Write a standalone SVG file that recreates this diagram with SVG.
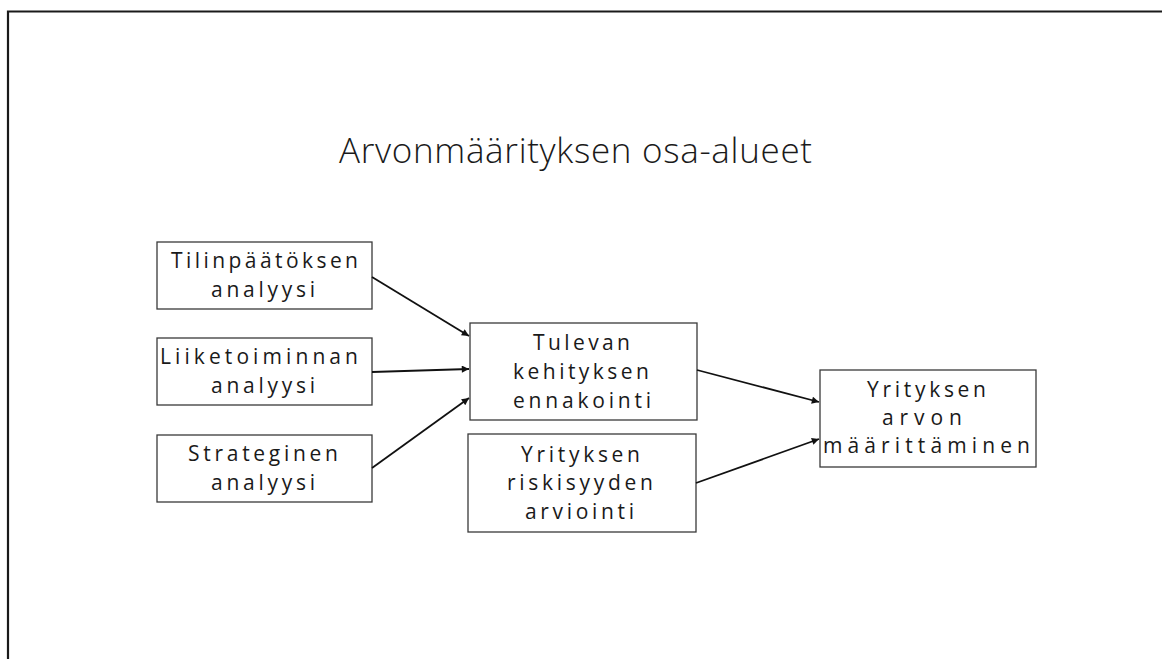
<svg xmlns="http://www.w3.org/2000/svg" width="1162" height="659" viewBox="0 0 1162 659">
<style>
.box{fill:#fff;stroke:#3a3a3a;stroke-width:1.3}
.t{font-family:"Open Sans","Liberation Sans",sans-serif;font-size:21px;fill:#1a1a1a;text-anchor:middle}
.title{font-family:"Open Sans","Liberation Sans",sans-serif;font-size:35px;font-weight:300;fill:#1a1a1a;text-anchor:middle}
.c{stroke:#111;stroke-width:1.8;fill:none;marker-end:url(#ah)}
</style>
<defs>
<marker id="ah" viewBox="0 0 10 10" refX="10" refY="5" markerWidth="5" markerHeight="4" orient="auto" markerUnits="strokeWidth">
<path d="M0,0 L10,5 L0,10 z" fill="#111"/>
</marker>
</defs>
<rect x="0" y="0" width="1162" height="659" fill="#fff"/>
<path d="M8,659 V11.5 H1162" fill="none" stroke="#1a1a1a" stroke-width="2.2"/>
<text class="title" x="575.5" y="163" textLength="473" lengthAdjust="spacing">Arvonmäärityksen osa-alueet</text>
<g id="n1">
<rect class="box" x="157" y="242" width="215" height="67"/>
<text class="t" x="264.5" y="268" textLength="187" lengthAdjust="spacing">Tilinpäätöksen</text>
<text class="t" x="263" y="297" textLength="104" lengthAdjust="spacing">analyysi</text>
</g>
<g id="n2">
<rect class="box" x="157" y="338" width="215" height="67"/>
<text class="t" x="259" y="364" textLength="198" lengthAdjust="spacing">Liiketoiminnan</text>
<text class="t" x="263" y="393" textLength="104" lengthAdjust="spacing">analyysi</text>
</g>
<g id="n3">
<rect class="box" x="157" y="435" width="215" height="67"/>
<text class="t" x="263" y="461" textLength="150" lengthAdjust="spacing">Strateginen</text>
<text class="t" x="263" y="490" textLength="104" lengthAdjust="spacing">analyysi</text>
</g>
<g id="n4">
<rect class="box" x="470" y="323" width="227" height="97"/>
<text class="t" x="581.5" y="350" textLength="97" lengthAdjust="spacing">Tulevan</text>
<text class="t" x="581" y="379" textLength="136" lengthAdjust="spacing">kehityksen</text>
<text class="t" x="582" y="408" textLength="138" lengthAdjust="spacing">ennakointi</text>
</g>
<g id="n5">
<rect class="box" x="468" y="434" width="228" height="98"/>
<text class="t" x="580.5" y="462" textLength="119" lengthAdjust="spacing">Yrityksen</text>
<text class="t" x="580" y="490" textLength="146" lengthAdjust="spacing">riskisyyden</text>
<text class="t" x="579.5" y="519" textLength="109" lengthAdjust="spacing">arviointi</text>
</g>
<g id="n6">
<rect class="box" x="820" y="370" width="216" height="97"/>
<text class="t" x="926.5" y="397" textLength="119" lengthAdjust="spacing">Yrityksen</text>
<text class="t" x="922" y="425" textLength="80" lengthAdjust="spacing">arvon</text>
<text class="t" x="926.5" y="453" textLength="207" lengthAdjust="spacing">määrittäminen</text>
</g>
<g id="connectors">
<line class="c" x1="372" y1="277" x2="469" y2="336"/>
<line class="c" x1="372" y1="372" x2="469" y2="369"/>
<line class="c" x1="372" y1="468" x2="469" y2="398"/>
<line class="c" x1="697" y1="370" x2="819" y2="402"/>
<line class="c" x1="696" y1="483" x2="819" y2="439"/>
</g>
</svg>
